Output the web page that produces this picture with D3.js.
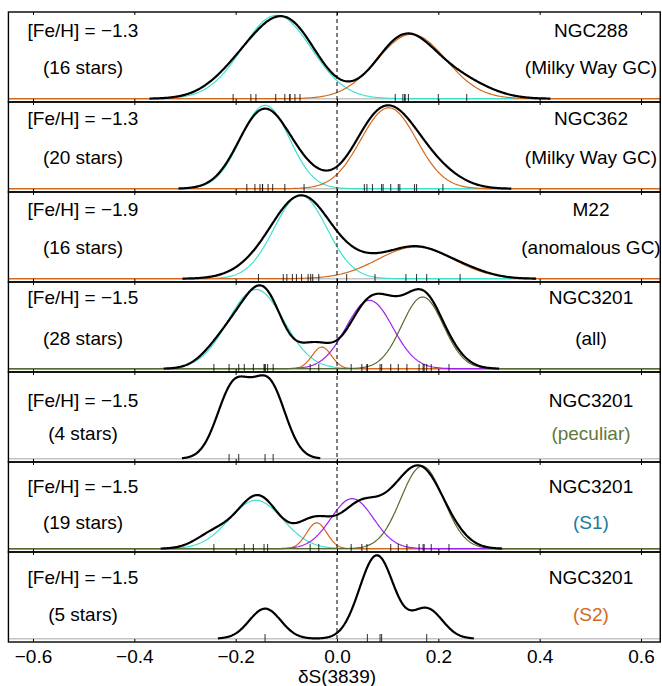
<!DOCTYPE html>
<html>
<head>
<meta charset="utf-8">
<script src="https://cdn.jsdelivr.net/npm/d3@7/dist/d3.min.js"></script>
<style>
  body { margin: 0; background: #fff; }
  text { font-family: "Liberation Sans", Arial, sans-serif; }
</style>
</head>
<body>
<svg id="chart" width="662" height="686"></svg>
<script>
(function (d3) {
    'use strict';

    // ---- data ----
    var metallicity = ['\u22121.3', '\u22121.3', '\u22121.9', '\u22121.5', '\u22121.5', '\u22121.5', '\u22121.5'];
    var starCounts = [16, 20, 16, 28, 4, 19, 5];
    var clusterNames = ['NGC288', 'NGC362', 'M22', 'NGC3201', 'NGC3201', 'NGC3201', 'NGC3201'];
    var subsetLabels = ['(Milky Way GC)', '(Milky Way GC)', '(anomalous GC)', '(all)', '(peculiar)', '(S1)', '(S2)'];

    // deltaS(3839) of the individual stars (rug marks)
    var ngc288 = [-0.205, -0.170, -0.160, -0.121, -0.103, -0.093, -0.093, -0.083, -0.073,
                  0.115, 0.130, 0.134, 0.134, 0.141, 0.200, 0.256];
    var ngc362 = [-0.178, -0.162, -0.152, -0.147, -0.147, -0.136, -0.127, -0.103, -0.065,
                  0.054, 0.059, 0.070, 0.088, 0.091, 0.106, 0.121, 0.124, 0.153, 0.157, 0.209];
    var m22 = [-0.155, -0.106, -0.099, -0.088, -0.080, -0.070, -0.057, -0.052, -0.048, -0.036,
               0.019, 0.075, 0.136, 0.157, 0.177, 0.243];
    var ngc3201Peculiar = [-0.213, -0.194, -0.142, -0.126];
    var ngc3201S1 = [-0.243, -0.183, -0.165, -0.144, -0.137, -0.053, -0.036, 0.028, 0.049, 0.059,
                     0.106, 0.121, 0.138, 0.162, 0.170, 0.172, 0.186, 0.221];
    var ngc3201S2 = [-0.142, 0.060, 0.085, 0.088, 0.177];
    var ngc3201All = ngc3201Peculiar.concat(ngc3201S1, ngc3201S2);

    var panelStars = [ngc288, ngc362, m22, ngc3201All, ngc3201Peculiar, ngc3201S1, ngc3201S2];
    var bandwidths = [0.055, 0.045, 0.050, 0.033, 0.031, 0.035, 0.031];

    // gaussian components: kind, mean, sigma, peak (relative to the density maximum)
    var fitKind  = [['A', 'B'], ['A', 'B'], ['A', 'B'], ['A', 'B', 'C', 'D'], [], ['A', 'B', 'C', 'D'], []];
    var fitMean  = [[-0.119, 0.147], [-0.142, 0.102], [-0.072, 0.155],
                    [-0.160, -0.030, 0.064, 0.169], [], [-0.160, -0.040, 0.030, 0.168], []];
    var fitSigma = [[0.068, 0.068], [0.048, 0.055], [0.052, 0.075],
                    [0.055, 0.019, 0.046, 0.041], [], [0.053, 0.020, 0.042, 0.042], []];
    var fitPeak  = [[1.01, 0.78], [1.0, 0.97], [1.0, 0.38],
                    [0.95, 0.26, 0.82, 0.86], [], [0.58, 0.31, 0.60, 0.99], []];

    var xTicks = [-0.6, -0.4, -0.2, 0.0, 0.2, 0.4, 0.6];

    // ---- styles / layout ----
    var kindColor = { A: '#40E0D0', B: '#D2691E', C: '#A020F0', D: '#556B2F' };
    var subsetColor = ['#000', '#000', '#000', '#000', '#62783a', '#1b7a9e', '#d2691e'];
    var topLabelDy = [18, 16, 17, 15, 28, 24, 25];
    var botLabelDy = [55, 55, 55, 56, 61, 60, 62];

    var plotTop = 12, plotBottom = 642, nPanels = 7,
        panelH = (plotBottom - plotTop) / nPanels, pad = 3.3;

    var x = d3.scaleLinear().domain([-0.6, 0.6]).range([33, 641]);
    var frameLeft = x(-0.6485), frameRight = x(0.638);

    var svg = d3.select('#chart');

    svg.append('defs').append('clipPath').attr('id', 'clip')
        .append('rect')
        .attr('x', frameLeft).attr('y', plotTop)
        .attr('width', frameRight - frameLeft).attr('height', plotBottom - plotTop);

    function gauss(u, m, s) {
        return Math.exp(-0.5 * Math.pow((u - m) / s, 2));
    }

    function kde(values, bw) {
        var lo = d3.min(values) - 3 * bw, hi = d3.max(values) + 3 * bw;
        return d3.range(0, 401).map(function (i) {
            var u = lo + (hi - lo) * i / 400;
            var dens = d3.mean(values, function (v) { return gauss(u, v, bw); }) / (bw * Math.sqrt(2 * Math.PI));
            return [u, dens];
        });
    }

    var fullRange = d3.range(0, 601).map(function (i) { return -0.66 + 1.32 * i / 600; });

    panelStars.forEach(function (stars, p) {
        var top = plotTop + p * panelH, bottom = top + panelH;
        var g = svg.append('g').attr('class', 'panel');

        var density = kde(stars, bandwidths[p]);
        var dMax = d3.max(density, function (d) { return d[1]; });
        var comps = fitKind[p].map(function (k, j) {
            return {
                kind: k,
                pts: fullRange.map(function (u) {
                    return [u, fitPeak[p][j] * dMax * gauss(u, fitMean[p][j], fitSigma[p][j])];
                })
            };
        });
        var yMax = Math.max(dMax, d3.max(fitPeak[p].concat([1])) * dMax);

        var y = d3.scaleLinear().domain([0, yMax]).range([bottom - pad, top + pad]);
        var line = d3.line()
            .x(function (d) { return x(d[0]); })
            .y(function (d) { return y(d[1]); });

        var inner = g.append('g').attr('clip-path', 'url(#clip)');

        // zero line
        inner.append('line')
            .attr('x1', frameLeft).attr('x2', frameRight)
            .attr('y1', y(0)).attr('y2', y(0))
            .attr('stroke', '#c4c4c4').attr('stroke-width', 1.5);

        inner.selectAll('path.comp')
            .data(comps)
            .enter()
            .append('path')
            .attr('class', 'comp')
            .attr('d', function (d) { return line(d.pts); })
            .attr('fill', 'none')
            .attr('stroke', function (d) { return kindColor[d.kind]; })
            .attr('stroke-width', 1.2);

        inner.append('path')
            .attr('d', line(density))
            .attr('fill', 'none')
            .attr('stroke', '#000')
            .attr('stroke-width', 2.2);

        // rug
        inner.selectAll('line.rug')
            .data(stars)
            .enter()
            .append('line')
            .attr('class', 'rug')
            .attr('x1', function (d) { return x(d); })
            .attr('x2', function (d) { return x(d); })
            .attr('y1', bottom)
            .attr('y2', bottom - 8)
            .attr('stroke', '#000')
            .attr('stroke-opacity', 0.75)
            .attr('stroke-width', 1.1);

        // ticks, inward on both edges
        g.append('g')
            .attr('transform', 'translate(0,' + top + ')')
            .call(d3.axisBottom(x).tickValues(xTicks).tickSize(3).tickFormat(''))
            .call(function (a) { a.select('.domain').remove(); });
        g.append('g')
            .attr('transform', 'translate(0,' + bottom + ')')
            .call(d3.axisTop(x).tickValues(xTicks).tickSize(3).tickFormat(''))
            .call(function (a) { a.select('.domain').remove(); });

        g.append('rect')
            .attr('x', frameLeft).attr('y', top)
            .attr('width', frameRight - frameLeft).attr('height', panelH)
            .attr('fill', 'none')
            .attr('stroke', '#000')
            .attr('stroke-width', 1.4);

        // labels
        var lx = 83, rx = 591;
        g.append('text')
            .attr('x', lx).attr('y', top + topLabelDy[p] + 7)
            .attr('text-anchor', 'middle').attr('font-size', 19)
            .text('[Fe/H] = ' + metallicity[p]);
        g.append('text')
            .attr('x', lx).attr('y', top + botLabelDy[p] + 7)
            .attr('text-anchor', 'middle').attr('font-size', 19)
            .text('(' + starCounts[p] + ' stars)');
        g.append('text')
            .attr('x', rx).attr('y', top + topLabelDy[p] + 7)
            .attr('text-anchor', 'middle').attr('font-size', 19)
            .text(clusterNames[p]);
        g.append('text')
            .attr('x', rx).attr('y', top + botLabelDy[p] + 7)
            .attr('text-anchor', 'middle').attr('font-size', 19)
            .attr('fill', subsetColor[p])
            .text(subsetLabels[p]);
    });

    // dashed zero line
    svg.append('line')
        .attr('x1', x(0)).attr('x2', x(0))
        .attr('y1', plotTop).attr('y2', plotBottom)
        .attr('stroke', '#000')
        .attr('stroke-width', 1)
        .attr('stroke-dasharray', '4,3');

    // bottom tick labels
    var axisG = svg.append('g')
        .attr('transform', 'translate(0,' + plotBottom + ')')
        .call(d3.axisBottom(x).tickValues(xTicks).tickSize(0).tickPadding(8).tickFormat(d3.format('.1f')));
    axisG.select('.domain').remove();
    axisG.selectAll('text')
        .attr('font-size', 19)
        .attr('font-family', '"Liberation Sans", Arial, sans-serif')
        .attr('fill', '#000');

    svg.append('text')
        .attr('x', x(0)).attr('y', 683)
        .attr('text-anchor', 'middle').attr('font-size', 19)
        .text('\u03b4S(3839)');
})(window.d3);
</script>
</body>
</html>
